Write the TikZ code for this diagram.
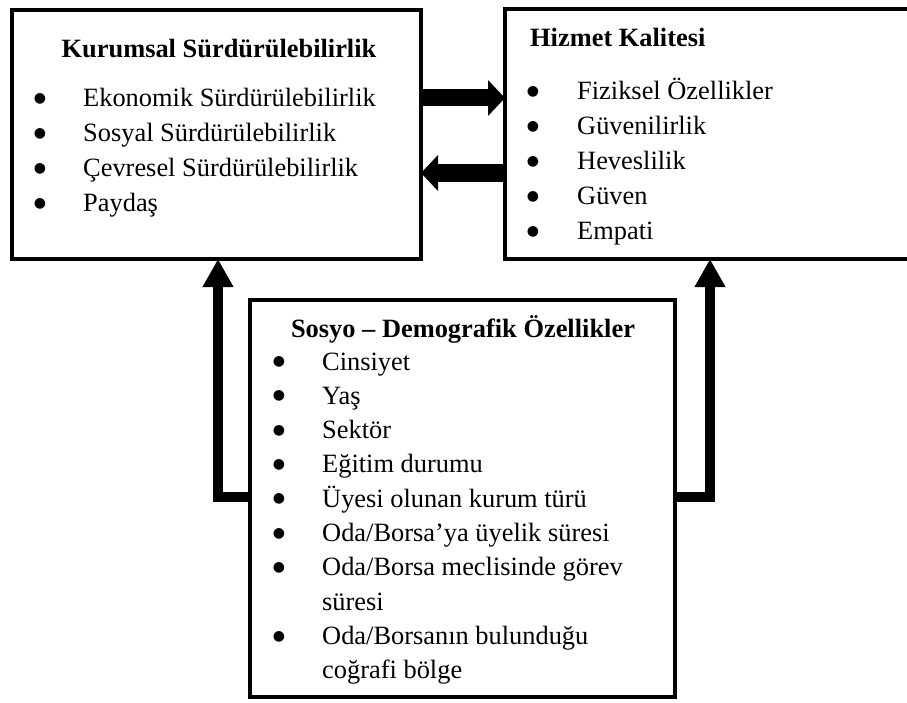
\documentclass[tikz,border=0pt]{standalone}
\usepackage{fontspec}
\setmainfont{Liberation Serif}
\newfontfamily\markfont{DejaVu Sans}
\usetikzlibrary{arrows.meta}
\begin{document}
\begin{tikzpicture}[x=1pt,y=-1pt,
  box/.style={draw,line width=4.5pt,outer sep=0pt,inner sep=0pt,anchor=north west},
  itemtext/.style={inner sep=0pt,anchor=base west,font=\fontsize{26.4}{30}\selectfont},
  titletext/.style={inner sep=0pt,font=\bfseries\fontsize{26.4}{30}\selectfont},
  bulletmark/.style={inner sep=0pt,anchor=center,font=\markfont\fontsize{14}{16}\selectfont},
  pairarrow/.style={line width=17pt,-{Triangle[length=17pt,width=35pt]}},
  linkarrow/.style={line width=10pt,line join=miter,-{Triangle[length=28pt,width=29pt]}}]
\useasboundingbox (0,0) rectangle (907,703);

% the three boxes
\node[box,minimum width=409pt,minimum height=249pt] (kb) at (12,10) {};
\node[box,minimum width=410pt,minimum height=250pt] (hk) at (505,9) {};
\node[box,minimum width=425pt,minimum height=397pt] (sd) at (250,300) {};

% Kurumsal Sürdürülebilirlik
\node[titletext,anchor=base] (kbt) at (219,58) {Kurumsal Sürdürülebilirlik};
\foreach \t [count=\i] in {Ekonomik Sürdürülebilirlik,Sosyal Sürdürülebilirlik,Çevresel Sürdürülebilirlik,Paydaş}{
  \node[bulletmark] (kbd\i) at (40,{99+35*(\i-1)}) {●};
  \node[itemtext] (kbi\i) at (83,{107+35*(\i-1)}) {\t};
}

% Hizmet Kalitesi
\node[titletext,anchor=base west] (hkt) at (530,47) {Hizmet Kalitesi};
\foreach \t [count=\i] in {Fiziksel Özellikler,Güvenilirlik,Heveslilik,Güven,Empati}{
  \node[bulletmark] (hkd\i) at (533,{92+35*(\i-1)}) {●};
  \node[itemtext] (hki\i) at (577,{100+35*(\i-1)}) {\t};
}

% Sosyo – Demografik Özellikler
\node[titletext,anchor=base] (sdt) at (463,337) {Sosyo – Demografik Özellikler};
\foreach \t [count=\i] in {Cinsiyet,Yaş,Sektör,Eğitim durumu,Üyesi olunan kurum türü,Oda/Borsa’ya üyelik süresi,Oda/Borsa meclisinde görev,süresi,Oda/Borsanın bulunduğu,coğrafi bölge}{
  \node[itemtext] (sdi\i) at (322,{370+34.3*(\i-1)}) {\t};
}
\foreach \i in {1,...,7,9}{
  \node[bulletmark] (sdd\i) at (279,{362+34.3*(\i-1)}) {●};
}

% connectors
\draw[pairarrow] (kb.east |- 0,98) -- (hk.west |- 0,98);
\draw[pairarrow,line width=18pt] (hk.west |- 0,173) -- (kb.east |- 0,173);

\coordinate (lbend) at (218,497);
\coordinate (rbend) at (710,497);
\draw[linkarrow] (sd.west |- lbend) -- (lbend) -- (lbend |- kb.south);
\draw[linkarrow] (sd.east |- rbend) -- (rbend) -- (rbend |- hk.south);
\end{tikzpicture}
\end{document}
